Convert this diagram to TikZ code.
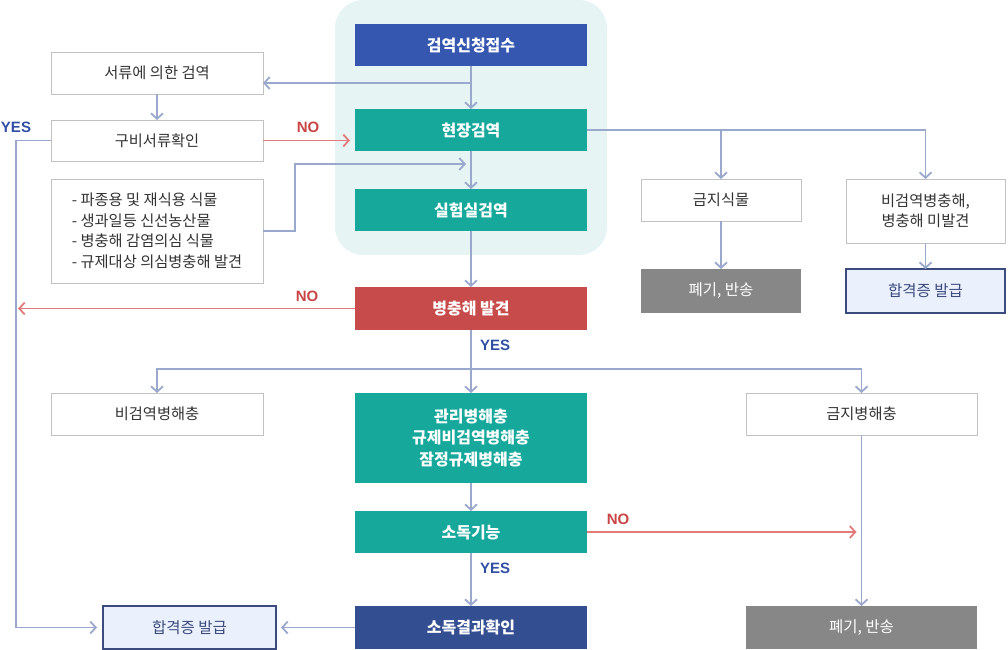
\documentclass[tikz,border=0pt]{standalone}
\usepackage{fontspec}
\setmainfont{Noto Sans CJK KR}
\newfontfamily\latinfont{Liberation Sans}
\usetikzlibrary{arrows.meta, calc}
\definecolor{panelteal}{HTML}{E6F5F3}
\definecolor{applyblue}{HTML}{3557B0}
\definecolor{stepteal}{HTML}{15A89B}
\definecolor{alertred}{HTML}{C84B4B}
\definecolor{resultnavy}{HTML}{344E92}
\definecolor{discardgray}{HTML}{878787}
\definecolor{passfill}{HTML}{EAF0FC}
\definecolor{passborder}{HTML}{3B4B7E}
\definecolor{boxgray}{HTML}{C2C2C2}
\definecolor{textgray}{HTML}{333333}
\definecolor{flowblue}{HTML}{9AA8CE}
\definecolor{flowred}{HTML}{E27B7B}
\definecolor{notext}{HTML}{C94545}
\definecolor{yestext}{HTML}{2F4FA5}

\begin{document}
\begin{tikzpicture}[x=1pt, y=-1pt,
    box/.style={inner sep=0pt, outer sep=0pt, align=center},
    plainbox/.style={box, draw=boxgray, line width=1pt, fill=white, text=textgray, font=\fontsize{15.3}{20.5}\selectfont},
    solidbox/.style={box, text=white, minimum width=232pt, minimum height=42pt, font=\fontsize{16}{21.5}\selectfont\bfseries},
    passbox/.style={box, draw=passborder, line width=2pt, fill=passfill, text=passborder, font=\fontsize{15.5}{18}\selectfont},
    graybox/.style={box, fill=discardgray, text=white, font=\fontsize{15.5}{18}\selectfont},
    flow/.style={draw=flowblue, line width=1.8pt, -{Straight Barb[length=5.5pt, width=12pt]}},
    noflow/.style={flow, draw=flowred},
    nolabel/.style={text=notext, font=\latinfont\fontsize{15}{15}\selectfont\bfseries},
    yeslabel/.style={text=yestext, font=\latinfont\fontsize{15}{15}\selectfont\bfseries}]
    \useasboundingbox (0,0) rectangle (1008,649);

    % Inspection panel
    \fill[panelteal, rounded corners=28pt] (335,0) rectangle (607,255);

    % Main column
    \node[solidbox, fill=applyblue] (apply) at (471,45) {검역신청접수};
    \node[solidbox, fill=stepteal] (site) at (471,130) {현장검역};
    \node[solidbox, fill=stepteal] (lab) at (471,210) {실험실검역};
    \node[solidbox, fill=alertred, minimum height=43pt] (found) at (471,308.5) {병충해 발견};
    \node[solidbox, fill=stepteal, minimum height=90pt] (mgmt) at (471,438) {관리병해충\\규제비검역병해충\\잠정규제병해충};
    \node[solidbox, fill=stepteal] (disinf) at (471,532) {소독기능};
    \node[solidbox, fill=resultnavy, minimum height=43pt] (result) at (471,627.5) {소독결과확인};

    % Left column
    \node[plainbox, minimum width=212pt, minimum height=42pt] (docread) at (157,73) {서류에 의한 검역};
    \node[plainbox, minimum width=212pt, minimum height=41pt] (docs) at (157,140.5) {구비서류확인};
    \node[plainbox, minimum width=212pt, minimum height=104pt, align=left] (list) at (157,231) {- 파종용 및 재식용 식물\\- 생과일등 신선농산물\\- 병충해 감염의심 식물\\- 규제대상 의심병충해 발견};
    \node[plainbox, minimum width=212pt, minimum height=42pt] (nonq) at (157,414) {비검역병해충};
    \node[passbox, minimum width=173pt, minimum height=43pt] (passleft) at (189.5,627.5) {합격증 발급};

    % Right column
    \node[plainbox, minimum width=160pt, minimum height=42pt] (banplant) at (721,200) {금지식물};
    \node[graybox, minimum width=160pt, minimum height=44pt] (discardtop) at (721,291) {폐기, 반송};
    \node[plainbox, minimum width=159pt, minimum height=64pt] (nopest) at (925.5,211) {비검역병충해,\\병충해 미발견};
    \node[passbox, minimum width=159pt, minimum height=44pt] (passtop) at (925.5,291) {합격증 발급};
    \node[plainbox, minimum width=231pt, minimum height=42pt] (banpest) at (861.5,414) {금지병해충};
    \node[graybox, minimum width=231pt, minimum height=43pt] (discardlow) at (861.5,627.5) {폐기, 반송};

    % Connectors
    \coordinate (split1) at (471,83);
    \coordinate (yesline) at (16,0);
    \coordinate (listjog) at (295,164);
    \coordinate (split2) at (471,369);
    \draw[flow] (apply) -- (site);
    \draw[flow] (split1) -- (docread.east |- split1);
    \draw[flow] (docread) -- (docs);
    \draw[noflow, shorten >=5pt] (docs.east) -- (site.west |- docs.east);
    \draw[flow, shorten >=6pt] (docs.west) -- (docs.west -| yesline) |- (passleft.west);
    \draw[flow, shorten >=5pt] (list.east) -| (listjog) -- (site.south |- listjog);
    \draw[flow] (site) -- (lab);
    \draw[flow] (site.east) -| (nopest.north);
    \draw[flow] (site.east -| banplant.north) -- (banplant.north);
    \draw[flow] (banplant) -- (discardtop);
    \draw[flow] (nopest) -- (passtop);
    \draw[flow] (lab) -- (found);
    \draw[noflow] (found.west) -- (found.west -| 18,0);
    \draw[flow] (found) -- (mgmt);
    \draw[flow] (split2) -| (nonq.north);
    \draw[flow] (split2) -| (banpest.north);
    \draw[flow] (mgmt) -- (disinf);
    \draw[noflow, shorten >=5pt] (disinf.east) -- (disinf.east -| banpest.south);
    \draw[flow] (disinf) -- (result);
    \draw[flow, shorten >=5pt] (result.west) -- (passleft.east);
    \draw[flow] (banpest) -- (discardlow);

    % Decisions
    \node[nolabel] (nodocs) at (308,127) {NO};
    \node[yeslabel] (yesdocs) at (16,127) {YES};
    \node[nolabel] (nofound) at (307,296) {NO};
    \node[yeslabel] (yesfound) at (495,345) {YES};
    \node[nolabel] (nodisinf) at (618,519) {NO};
    \node[yeslabel] (yesdisinf) at (495,568) {YES};
\end{tikzpicture}
\end{document}
